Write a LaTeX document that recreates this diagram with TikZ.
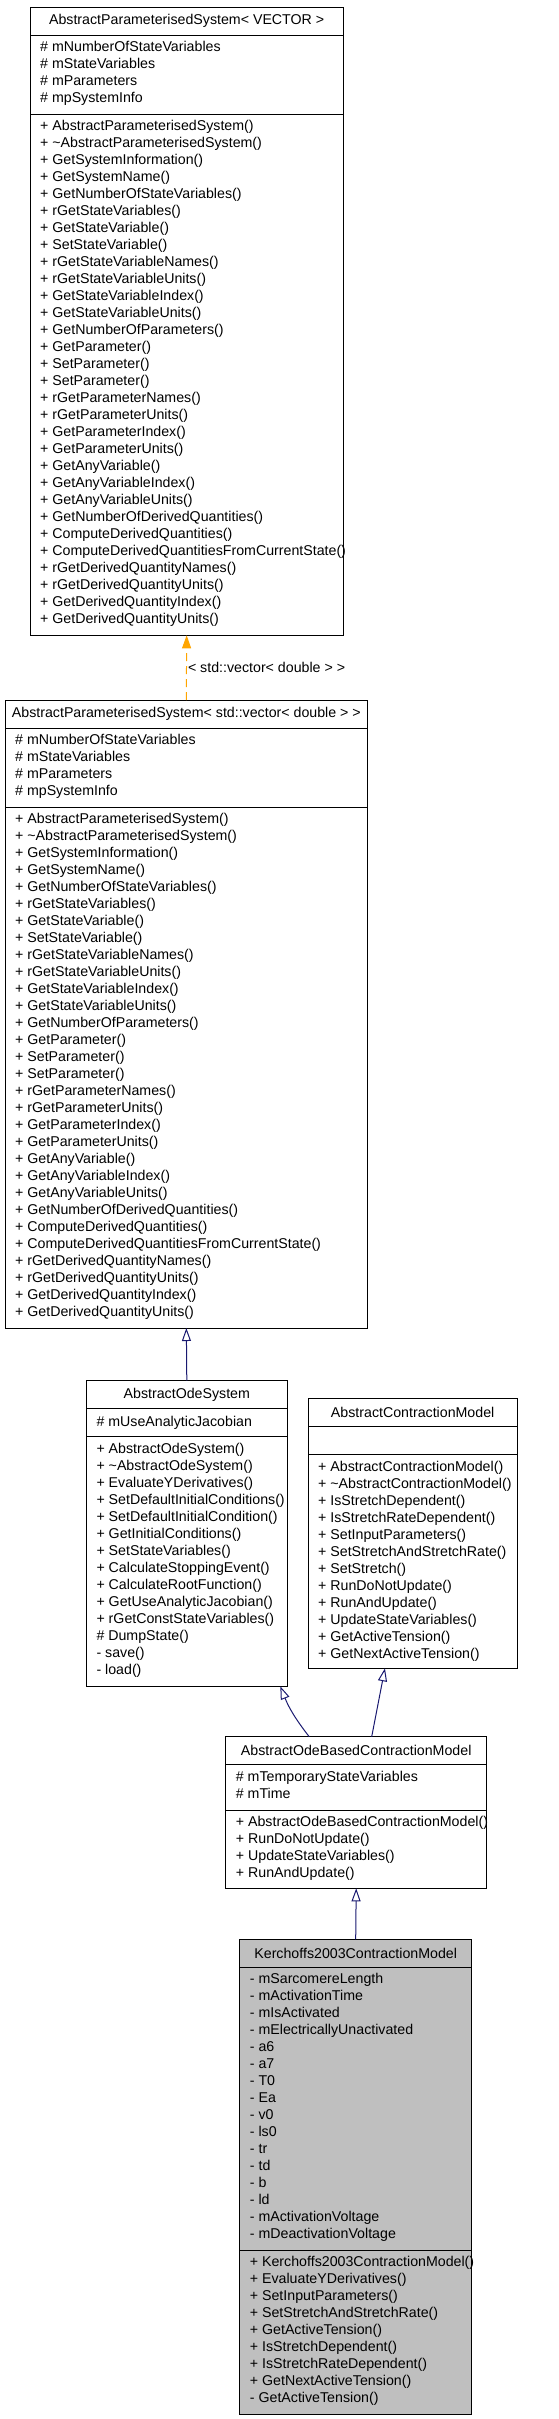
\documentclass[tikz,border=0pt]{standalone}
\usepackage{fontspec}
\setmainfont{Liberation Sans}
\usetikzlibrary{positioning}
\usetikzlibrary{arrows.meta}

\definecolor{edgeblue}{RGB}{25,25,112}
\definecolor{edgeorange}{RGB}{255,165,0}
\definecolor{boxgray}{RGB}{191,191,191}

% members shared by both parameterised system boxes
\newcommand{\apsattrs}{\# mNumberOfStateVariables\\ \# mStateVariables\\ \# mParameters\\ \# mpSystemInfo}
\newcommand{\apsops}{+ AbstractParameterisedSystem()\\ + \textasciitilde AbstractParameterisedSystem()\\
+ GetSystemInformation()\\ + GetSystemName()\\ + GetNumberOfStateVariables()\\ + rGetStateVariables()\\
+ GetStateVariable()\\ + SetStateVariable()\\ + rGetStateVariableNames()\\ + rGetStateVariableUnits()\\
+ GetStateVariableIndex()\\ + GetStateVariableUnits()\\ + GetNumberOfParameters()\\ + GetParameter()\\
+ SetParameter()\\ + SetParameter()\\ + rGetParameterNames()\\ + rGetParameterUnits()\\
+ GetParameterIndex()\\ + GetParameterUnits()\\ + GetAnyVariable()\\ + GetAnyVariableIndex()\\
+ GetAnyVariableUnits()\\ + GetNumberOfDerivedQuantities()\\ + ComputeDerivedQuantities()\\
+ ComputeDerivedQuantitiesFromCurrentState()\\ + rGetDerivedQuantityNames()\\ + rGetDerivedQuantityUnits()\\
+ GetDerivedQuantityIndex()\\ + GetDerivedQuantityUnits()}

\tikzset{
    part/.style={draw=black, line width=1pt, fill=white, inner sep=0pt, outer sep=0pt, anchor=north west},
    members/.style={anchor=north west, inner sep=0pt, align=left, execute at begin node=\strut},
    inherit/.style={draw=edgeblue, line width=1pt, -{Triangle[open, length=13pt, width=9pt]}},
    instance/.style={draw=edgeorange, line width=1pt, dash pattern=on 8pt off 5pt, -{Triangle[length=13pt, width=9pt]}}
}

\begin{document}
\begin{tikzpicture}[x=1pt, y=1pt, font=\fontsize{14.2}{17}\selectfont]

    \useasboundingbox (0,0) rectangle (559,-2419);

    % AbstractParameterisedSystem< VECTOR >
    \node[part, minimum width=313.3pt, minimum height=28pt] (aps) at (30,-7.3) {AbstractParameterisedSystem< VECTOR >};
    \node[part, minimum width=313.3pt, minimum height=79pt, below=0pt of aps] (aps-attr) {};
    \node[part, minimum width=313.3pt, minimum height=521pt, below=0pt of aps-attr] (aps-ops) {};
    \node[members] (aps-attr-txt) at ([shift={(10pt,-6pt)}]aps-attr.north west) {\apsattrs};
    \node[members] (aps-ops-txt) at ([shift={(10pt,-6pt)}]aps-ops.north west) {\apsops};

    % AbstractParameterisedSystem< std::vector< double > >
    \node[part, minimum width=362.7pt, minimum height=28pt] (apsd) at (5,-700) {AbstractParameterisedSystem< std::vector< double > >};
    \node[part, minimum width=362.7pt, minimum height=79pt, below=0pt of apsd] (apsd-attr) {};
    \node[part, minimum width=362.7pt, minimum height=521pt, below=0pt of apsd-attr] (apsd-ops) {};
    \node[members] (apsd-attr-txt) at ([shift={(10pt,-6pt)}]apsd-attr.north west) {\apsattrs};
    \node[members] (apsd-ops-txt) at ([shift={(10pt,-6pt)}]apsd-ops.north west) {\apsops};

    % AbstractOdeSystem
    \node[part, minimum width=201pt, minimum height=28pt] (aos) at (86.3,-1380.7) {AbstractOdeSystem};
    \node[part, minimum width=201pt, minimum height=28pt, below=0pt of aos] (aos-attr) {};
    \node[part, minimum width=201pt, minimum height=249.6pt, below=0pt of aos-attr] (aos-ops) {};
    \node[members] (aos-attr-txt) at ([shift={(10pt,-6pt)}]aos-attr.north west) {\# mUseAnalyticJacobian};
    \node[members] (aos-ops-txt) at ([shift={(10pt,-6pt)}]aos-ops.north west) {+ AbstractOdeSystem()\\
        + \textasciitilde AbstractOdeSystem()\\ + EvaluateYDerivatives()\\ + SetDefaultInitialConditions()\\
        + SetDefaultInitialCondition()\\ + GetInitialConditions()\\ + SetStateVariables()\\
        + CalculateStoppingEvent()\\ + CalculateRootFunction()\\ + GetUseAnalyticJacobian()\\
        + rGetConstStateVariables()\\ \# DumpState()\\ - save()\\ - load()};

    % AbstractContractionModel
    \node[part, minimum width=209.3pt, minimum height=28pt] (acm) at (308,-1398.7) {AbstractContractionModel};
    \node[part, minimum width=209.3pt, minimum height=28pt, below=0pt of acm] (acm-attr) {};
    \node[part, minimum width=209.3pt, minimum height=213.6pt, below=0pt of acm-attr] (acm-ops) {};
    \node[members] (acm-ops-txt) at ([shift={(10pt,-6pt)}]acm-ops.north west) {+ AbstractContractionModel()\\
        + \textasciitilde AbstractContractionModel()\\ + IsStretchDependent()\\ + IsStretchRateDependent()\\
        + SetInputParameters()\\ + SetStretchAndStretchRate()\\ + SetStretch()\\ + RunDoNotUpdate()\\
        + RunAndUpdate()\\ + UpdateStateVariables()\\ + GetActiveTension()\\ + GetNextActiveTension()};

    % AbstractOdeBasedContractionModel
    \node[part, minimum width=261pt, minimum height=28pt] (aobcm) at (225.7,-1736.7) {AbstractOdeBasedContractionModel};
    \node[part, minimum width=261pt, minimum height=45.6pt, below=0pt of aobcm] (aobcm-attr) {};
    \node[part, minimum width=261pt, minimum height=78pt, below=0pt of aobcm-attr] (aobcm-ops) {};
    \node[members] (aobcm-attr-txt) at ([shift={(10pt,-6pt)}]aobcm-attr.north west) {\# mTemporaryStateVariables\\ \# mTime};
    \node[members] (aobcm-ops-txt) at ([shift={(10pt,-6pt)}]aobcm-ops.north west) {+ AbstractOdeBasedContractionModel()\\
        + RunDoNotUpdate()\\ + UpdateStateVariables()\\ + RunAndUpdate()};

    % Kerchoffs2003ContractionModel
    \node[part, fill=boxgray, minimum width=232pt, minimum height=28pt] (k) at (239.7,-1939.3) {Kerchoffs2003ContractionModel};
    \node[part, fill=boxgray, minimum width=232pt, minimum height=282.7pt, below=0pt of k] (k-attr) {};
    \node[part, fill=boxgray, minimum width=232pt, minimum height=164pt, below=0pt of k-attr] (k-ops) {};
    \node[members] (k-attr-txt) at ([shift={(10pt,-6pt)}]k-attr.north west) {- mSarcomereLength\\ - mActivationTime\\
        - mIsActivated\\ - mElectricallyUnactivated\\ - a6\\ - a7\\ - T0\\ - Ea\\ - v0\\ - ls0\\ - tr\\ - td\\
        - b\\ - ld\\ - mActivationVoltage\\ - mDeactivationVoltage};
    \node[members] (k-ops-txt) at ([shift={(10pt,-6pt)}]k-ops.north west) {+ Kerchoffs2003ContractionModel()\\
        + EvaluateYDerivatives()\\ + SetInputParameters()\\ + SetStretchAndStretchRate()\\ + GetActiveTension()\\
        + IsStretchDependent()\\ + IsStretchRateDependent()\\ + GetNextActiveTension()\\ - GetActiveTension()};

    % edges
    \draw[instance] (apsd.north) -- (aps-ops.south) node[midway, right, inner sep=1pt] (apsd-lbl) {< std::vector< double > >};
    \draw[inherit] (aos.north) -- (apsd-ops.south);
    \draw[inherit] ([xshift=-47pt]aobcm.north) to[bend left=8] ([xshift=-7pt]aos-ops.south east);
    \draw[inherit] ([xshift=15.5pt]aobcm.north) -- ([xshift=-27.7pt]acm-ops.south);
    \draw[inherit] (k.north) -- (aobcm-ops.south);

\end{tikzpicture}
\end{document}
